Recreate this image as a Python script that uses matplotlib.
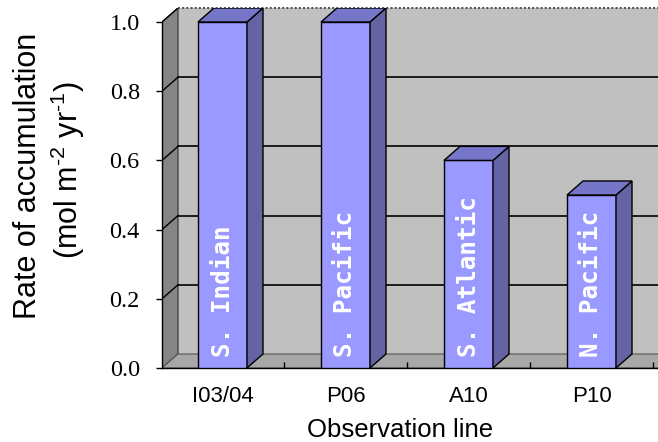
import matplotlib
matplotlib.use('Agg')
import matplotlib.pyplot as plt
from matplotlib.patches import Polygon, Rectangle
import numpy as np

# ---- data ----
categories = ['I03/04', 'P06', 'A10', 'P10']
values = [1.0, 1.0, 0.6, 0.5]
bar_labels = ['S. Indian', 'S. Pacific', 'S. Atlantic', 'N. Pacific']
yticks = [0.0, 0.2, 0.4, 0.6, 0.8, 1.0]
ytick_labels = ['0.0', '0.2', '0.4', '0.6', '0.8', '1.0']

plt.rcParams['font.family'] = ['Liberation Sans', 'DejaVu Sans']
plt.rcParams['mathtext.fontset'] = 'custom'
plt.rcParams['mathtext.rm'] = 'Liberation Sans'
plt.rcParams['mathtext.default'] = 'regular'

W, H = 658, 442
fig = plt.figure(figsize=(W / 100, H / 100), dpi=100)
ax_l, ax_b, ax_r, ax_t = 162, 368, 658, 8
ax = fig.add_axes([ax_l / W, 1 - ax_b / H, (ax_r - ax_l) / W, (ax_b - ax_t) / H])

px_per_cat = 123.0
px_per_unit = 346.0
xmin = -60.5 / px_per_cat
xmax = xmin + (ax_r - ax_l) / px_per_cat
ymax = (ax_b - ax_t) / px_per_unit
ax.set_xlim(xmin, xmax)
ax.set_ylim(0, ymax)
dx = 16 / px_per_cat
dy = 14 / px_per_unit
bw = 49 / px_per_cat

x = np.arange(len(categories))

# walls
ax.add_patch(Rectangle((xmin + dx, dy), xmax - xmin, ymax, facecolor='#c0c0c0',
                       edgecolor='none', zorder=0))
ax.add_patch(Polygon([(xmin, 0), (xmin + dx, dy), (xmin + dx, 1 + dy), (xmin, 1)],
                     closed=True, facecolor='#858585', edgecolor='#303030', lw=0.8, zorder=1))
ax.add_patch(Polygon([(xmin, 0), (xmax + 1, 0), (xmax + 1 + dx, dy), (xmin + dx, dy)],
                     closed=True, facecolor='#a8a8a8', edgecolor='#555555', lw=0.8, zorder=1))

# gridlines
for v in yticks[1:-1]:
    ax.plot([xmin + dx, xmax], [v + dy, v + dy], color='black', lw=1.2, zorder=1.5)
    ax.plot([xmin, xmin + dx], [v, v + dy], color='black', lw=1.0, zorder=1.5)
ax.plot([xmin, xmin + dx], [1, 1 + dy], color='black', lw=1.0, zorder=1.5)
ax.plot([xmin + dx, xmax], [ymax, ymax], color='#555555', lw=1.5, ls=(0, (1, 1)),
        zorder=1.5, clip_on=False)

# bars
front_c, side_c, top_c = '#9999ff', '#6464a4', '#7676c8'
ax.bar(x, values, width=bw, color=front_c, edgecolor='black', lw=1.0, zorder=3)
for xi, v in zip(x, values):
    r = xi + bw / 2
    l = xi - bw / 2
    ax.add_patch(Polygon([(r, 0), (r + dx, dy), (r + dx, v + dy), (r, v)], closed=True,
                         facecolor=side_c, edgecolor='black', lw=1.0, zorder=3))
    ax.add_patch(Polygon([(l, v), (r, v), (r + dx, v + dy), (l + dx, v + dy)], closed=True,
                         facecolor=top_c, edgecolor='black', lw=1.0, zorder=3))

for xi, lab in zip(x, bar_labels):
    ax.text(xi, 0.032, lab, rotation=90, ha='center', va='bottom', color='white',
            fontsize=17.5, family='DejaVu Sans Mono', fontweight='bold', zorder=4)

# axes / ticks
for s in ['top', 'right']:
    ax.spines[s].set_visible(False)
ax.spines['left'].set_bounds(0, 1)
ax.spines['left'].set_linewidth(1.0)
ax.spines['bottom'].set_linewidth(1.0)
ax.set_facecolor('white')

ax.set_yticks(yticks, ytick_labels)
ax.tick_params(axis='y', direction='out', length=4, width=1, pad=12, labelsize=17.5)
for t in ax.get_yticklabels():
    t.set_fontfamily('Liberation Serif')

ax.set_xticks(x + 0.5, [''] * len(x))
ax.tick_params(axis='x', which='major', direction='in', length=4, width=1)
ax.set_xticks(x, categories, minor=True)
ax.tick_params(axis='x', which='minor', length=0, pad=13, labelsize=16)

fig.text(400 / W, 1 - 430 / H, 'Observation line', ha='center', va='center', fontsize=18.5)
fig.text(28 / W, 1 - 176 / H, 'Rate of accumulation', rotation=90, ha='center',
         va='center', fontsize=22)
fig.text(68 / W, 1 - 170 / H, '(mol m$^{\u20102}$ yr$^{\u20101}$)', rotation=90, ha='center',
         va='center', fontsize=22)

fig.savefig('out.png', dpi=100)
